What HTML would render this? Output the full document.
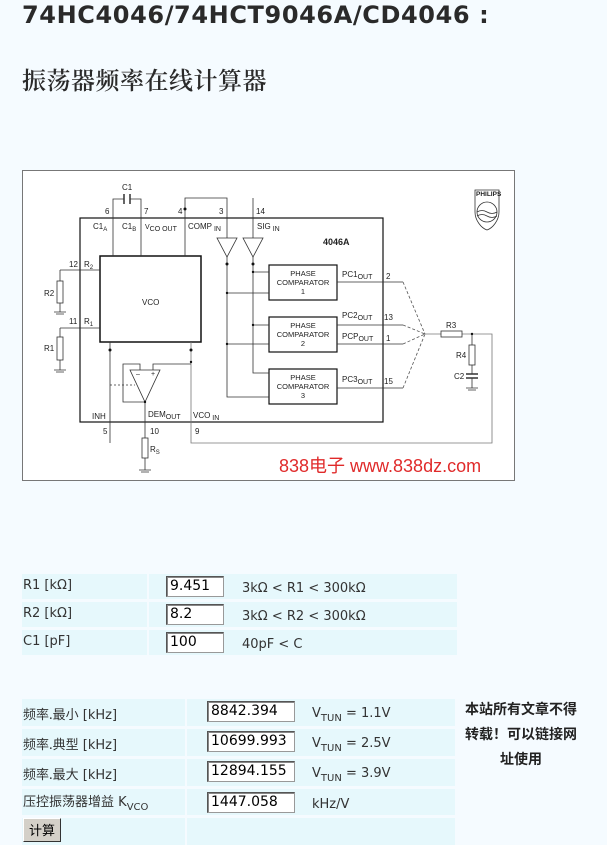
<!DOCTYPE html>
<html><head><meta charset="utf-8"><style>
body{margin:0;width:607px;height:845px;background:#f5fbff;position:relative;overflow:hidden;font-family:"DejaVu Sans","Noto Sans CJK SC",sans-serif;color:#333}
.a{position:absolute}
h1{position:absolute;left:22px;top:1px;margin:0;font:bold 24px "DejaVu Sans",sans-serif;color:#2a2a2a;letter-spacing:0.6px;white-space:nowrap}
h2{position:absolute;left:22px;top:61px;margin:0;font:600 24px "Noto Serif CJK SC","Noto Sans CJK SC",serif;color:#2a2a2a;white-space:nowrap;letter-spacing:0.5px}
.c{position:absolute;background:#e6f8fc}
.t{position:absolute;font-size:13px;color:#333;white-space:nowrap}
.in{position:absolute;background:#fff;border:1px solid #999;border-top-color:#555;border-left-color:#555;box-shadow:inset 1px 1px 0 #888;font:14px "DejaVu Sans",sans-serif;color:#000;padding-left:3px;box-sizing:border-box;line-height:18px;height:21px}
sub{font-size:10px;vertical-align:-4px}
.cn{font-family:"Noto Sans CJK SC",sans-serif}
</style></head><body>
<h1>74HC4046/74HCT9046A/CD4046 :</h1>
<h2>振荡器频率在线计算器</h2>

<svg class="a" style="left:0;top:0" width="607" height="500" font-family="Liberation Sans,sans-serif" font-size="8" fill="#222">
<rect x="22.5" y="170.5" width="492" height="310" fill="#fff" stroke="#777"/>
<g stroke="#111" stroke-width="1.2" fill="none">
<rect x="80" y="218" width="303" height="204"/>
<rect x="100" y="256" width="101" height="86" stroke-width="1.5"/>
<rect x="269" y="265" width="68" height="35"/>
<rect x="269" y="317" width="68" height="35"/>
<rect x="269" y="369" width="68" height="35"/>
</g>
<g stroke="#333" stroke-width="0.8" fill="none">
<path d="M113 256V199H124M130 199H141V256"/>
<path d="M124 194v10M130 194v10" stroke-width="1.5"/>
<path d="M185 256V198H227V238M253 198V238"/>
<path d="M217 238h20l-10 19zM243 238h20l-10 19z"/>
<path d="M227 257V397H269M253 257V373H269M253 272H269M227 293H269M253 325H269M227 344H269"/>
<path d="M337 282H403M337 325H403M337 344H403M337 388H403"/>
<path d="M403 282L425 334M403 325L425 334M403 344L425 334M403 388L425 334" stroke-dasharray="3,2" stroke="#555"/>
<path d="M425 334H441M462 334H492V443H191V342" stroke="#777"/>
<rect x="441" y="331" width="21" height="6"/>
<path d="M472 334v11M472 365v9M472 378v10"/>
<rect x="469" y="345" width="6" height="20"/>
<path d="M466 374h12M466 378h12" stroke-width="1.5"/>
<path d="M466 388h12M468 390h8"/>
<path d="M60 270H100M60 270v11M60 303v9M60 328H100M60 328v9M60 360v10"/>
<rect x="57" y="281" width="6" height="22"/><rect x="57" y="337" width="6" height="23"/>
<path d="M54 312h12M56 314h8M54 370h12M56 372h8"/>
<path d="M110 342V443"/>
<path d="M130 370h30l-15 32z"/>
<path d="M140 370v-6H123V402H145M153 370v-6H191M145 402V438M145 458v12"/>
<path d="M110 385H135" stroke-dasharray="2,2"/>
<rect x="142" y="438" width="6" height="20"/>
<path d="M139 470h12M141 472h8"/>
<path d="M475 190h24v22c0 8-6 16-12 18c-6-2-12-10-12-18z"/>
<circle cx="487" cy="212" r="10"/>
<path d="M477 212q5-3 10 0t10 0M477 216q5-3 10 0t10 0"/>
</g>
<g fill="#111">
<circle cx="185" cy="209" r="1.5"/><circle cx="110" cy="350" r="1.5"/><circle cx="191" cy="350" r="1.5"/>
<circle cx="227" cy="264" r="1.5"/><circle cx="253" cy="264" r="1.5"/>
<circle cx="253" cy="272" r="1.2"/><circle cx="227" cy="293" r="1.2"/><circle cx="253" cy="325" r="1.2"/><circle cx="227" cy="344" r="1.2"/>
<circle cx="191" cy="362" r="1.2"/><circle cx="145" cy="402" r="1.2"/><circle cx="472" cy="334" r="1.2"/>
</g>
<text x="122" y="190">C1</text>
<text x="105" y="214">6</text><text x="144" y="214">7</text><text x="178" y="214">4</text><text x="219" y="214">3</text><text x="256" y="214">14</text>
<text x="93" y="229">C1<tspan font-size="6" dy="2">A</tspan></text>
<text x="122" y="229">C1<tspan font-size="6" dy="2">B</tspan></text>
<text x="145" y="231"><tspan font-size="7" dy="-2">V</tspan><tspan font-size="7" dy="2">CO OUT</tspan></text>
<text x="188" y="229">COMP<tspan font-size="7" dy="2"> IN</tspan></text>
<text x="257" y="229">SIG<tspan font-size="7" dy="2"> IN</tspan></text>
<text x="323" y="245" font-weight="bold" font-size="9">4046A</text>
<text x="142" y="305">VCO</text>
<text x="69" y="267">12</text><text x="84" y="267">R<tspan font-size="6" dy="2">2</tspan></text>
<text x="69" y="324">11</text><text x="84" y="324">R<tspan font-size="6" dy="2">1</tspan></text>
<text x="44" y="296">R2</text><text x="44" y="351">R1</text>
<text x="92" y="419">INH</text><text x="148" y="417">DEM<tspan font-size="7" dy="2">OUT</tspan></text>
<text x="193" y="418">VCO<tspan font-size="7" dy="2"> IN</tspan></text>
<text x="103" y="434">5</text><text x="150" y="434">10</text><text x="195" y="434">9</text>
<text x="150" y="452">R<tspan font-size="6" dy="2">S</tspan></text>
<text x="136" y="376" font-size="7">–</text><text x="151" y="376" font-size="7">+</text>
<g text-anchor="middle" font-size="7.5">
<text x="303" y="276">PHASE</text><text x="303" y="285">COMPARATOR</text><text x="303" y="294">1</text>
<text x="303" y="328">PHASE</text><text x="303" y="337">COMPARATOR</text><text x="303" y="346">2</text>
<text x="303" y="380">PHASE</text><text x="303" y="389">COMPARATOR</text><text x="303" y="398">3</text>
</g>
<text x="342" y="277">PC1<tspan font-size="7" dy="2">OUT</tspan></text><text x="386" y="279">2</text>
<text x="342" y="318">PC2<tspan font-size="7" dy="2">OUT</tspan></text><text x="384" y="320">13</text>
<text x="342" y="339">PCP<tspan font-size="7" dy="2">OUT</tspan></text><text x="386" y="341">1</text>
<text x="342" y="382">PC3<tspan font-size="7" dy="2">OUT</tspan></text><text x="384" y="384">15</text>
<text x="446" y="328">R3</text><text x="456" y="358">R4</text><text x="454" y="379">C2</text>
<text x="476" y="196" font-size="6.5" font-weight="bold">PHILIPS</text>
<text x="279" y="472" font-size="18" fill="#e02a2a" font-family="Liberation Sans,Noto Sans CJK SC,sans-serif">838电子 www.838dz.com</text>
</svg>

<div class="c" style="left:22px;top:574px;width:125px;height:25px"></div><div class="c" style="left:149px;top:574px;width:308px;height:25px"></div>
<div class="c" style="left:22px;top:602px;width:125px;height:25px"></div><div class="c" style="left:149px;top:602px;width:308px;height:25px"></div>
<div class="c" style="left:22px;top:630px;width:125px;height:25px"></div><div class="c" style="left:149px;top:630px;width:308px;height:25px"></div>
<div class="t" style="left:23px;top:578px">R1 [kΩ]</div><div class="in" style="left:166px;top:576px;width:58px">9.451</div><div class="t" style="left:242px;top:581px">3kΩ &lt; R1 &lt; 300kΩ</div>
<div class="t" style="left:23px;top:606px">R2 [kΩ]</div><div class="in" style="left:166px;top:604px;width:58px">8.2</div><div class="t" style="left:242px;top:609px">3kΩ &lt; R2 &lt; 300kΩ</div>
<div class="t" style="left:23px;top:634px">C1 [pF]</div><div class="in" style="left:166px;top:632px;width:58px">100</div><div class="t" style="left:242px;top:637px">40pF &lt; C</div>

<div class="c" style="left:22px;top:699px;width:163px;height:27px"></div><div class="c" style="left:187px;top:699px;width:268px;height:27px"></div>
<div class="c" style="left:22px;top:729px;width:163px;height:27px"></div><div class="c" style="left:187px;top:729px;width:268px;height:27px"></div>
<div class="c" style="left:22px;top:759px;width:163px;height:27px"></div><div class="c" style="left:187px;top:759px;width:268px;height:27px"></div>
<div class="c" style="left:22px;top:789px;width:163px;height:26px"></div><div class="c" style="left:187px;top:789px;width:268px;height:26px"></div>
<div class="c" style="left:22px;top:818px;width:163px;height:27px"></div><div class="c" style="left:187px;top:818px;width:268px;height:27px"></div>
<div class="t" style="left:23px;top:704px"><span class="cn">频率.最小</span> [kHz]</div><div class="in" style="left:207px;top:701px;width:88px">8842.394</div><div class="t" style="left:312px;top:706px">V<sub>TUN</sub> = 1.1V</div>
<div class="t" style="left:23px;top:734px"><span class="cn">频率.典型</span> [kHz]</div><div class="in" style="left:207px;top:731px;width:88px">10699.993</div><div class="t" style="left:312px;top:736px">V<sub>TUN</sub> = 2.5V</div>
<div class="t" style="left:23px;top:764px"><span class="cn">频率.最大</span> [kHz]</div><div class="in" style="left:207px;top:761px;width:88px">12894.155</div><div class="t" style="left:312px;top:766px">V<sub>TUN</sub> = 3.9V</div>
<div class="t" style="left:23px;top:791px"><span class="cn">压控振荡器增益</span> K<sub>VCO</sub></div><div class="in" style="left:207px;top:792px;width:88px">1447.058</div><div class="t" style="left:312px;top:797px">kHz/V</div>
<div class="a" style="left:23px;top:818px;width:38px;height:24px;background:#d4d0c8;border:1px solid #fff;border-right-color:#333;border-bottom-color:#333;box-sizing:border-box;font:13px 'Noto Sans CJK SC',sans-serif;text-align:center;line-height:22px;color:#000">计算</div>
<div class="a cn" style="left:461px;top:697px;width:120px;font-weight:bold;font-size:14px;line-height:25px;color:#222;text-align:center">本站所有文章不得<br>转载！可以链接网<br>址使用</div>
</body></html>
